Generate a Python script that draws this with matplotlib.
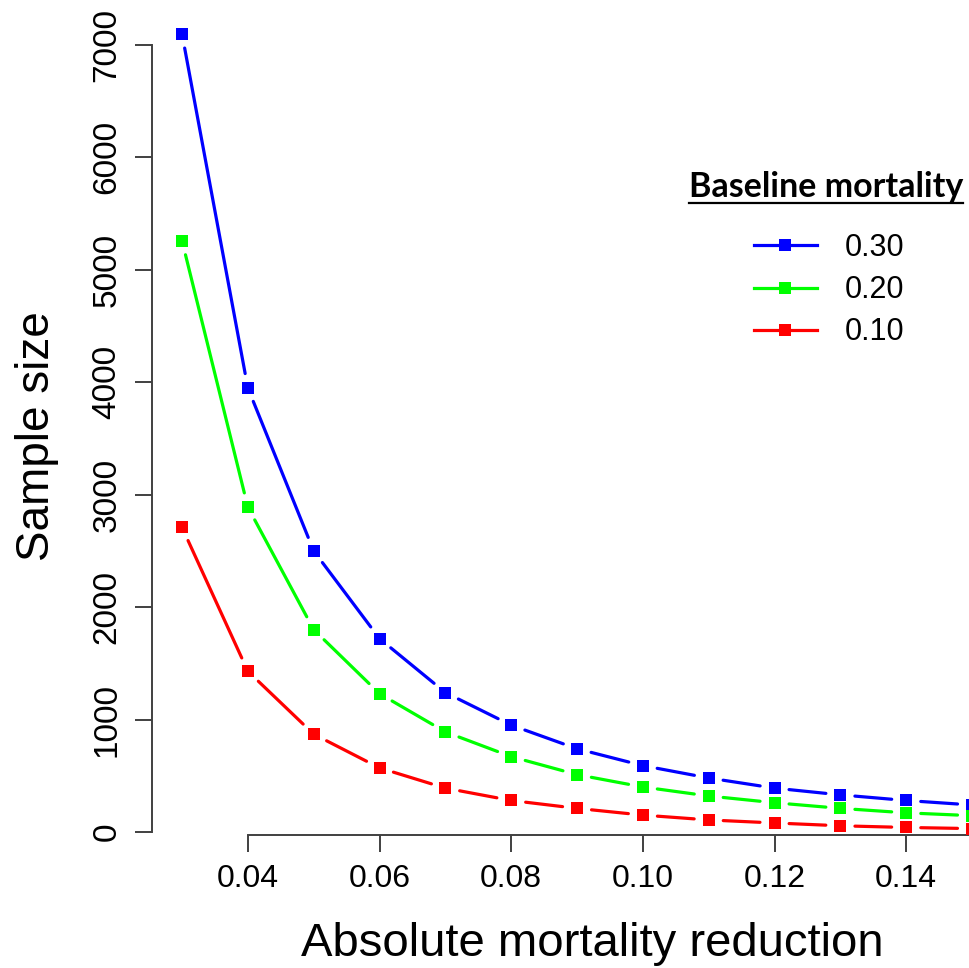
import matplotlib

matplotlib.use("Agg")
import matplotlib.pyplot as plt
from matplotlib.lines import Line2D

# absolute mortality reduction (x) and total sample size for each baseline mortality
reduction = [0.03, 0.04, 0.05, 0.06, 0.07, 0.08, 0.09, 0.10, 0.11, 0.12, 0.13, 0.14, 0.15]
size_030 = [7100, 3950, 2500, 1720, 1240, 950, 740, 590, 480, 390, 330, 280, 240]
size_020 = [5260, 2890, 1800, 1230, 890, 670, 510, 400, 320, 260, 210, 170, 145]
size_010 = [2710, 1430, 870, 570, 390, 280, 210, 150, 107, 80, 55, 40, 30]

series_labels = ["0.30", "0.20", "0.10"]
series_colors = ["#0000FF", "#00FF00", "#FF0000"]
legend_title = "Baseline mortality"

x_ticks = [0.04, 0.06, 0.08, 0.10, 0.12, 0.14, 0.16]
y_ticks = [0, 1000, 2000, 3000, 4000, 5000, 6000, 7000]

W, H = 969, 968
plt.rcParams["font.family"] = ["Liberation Sans", "DejaVu Sans"]

fig = plt.figure(figsize=(W / 100, H / 100), dpi=100)
left, right, bottom = 151.7, 1037.9, 835.0
ax = fig.add_axes([left / W, 1 - bottom / H, (right - left) / W, bottom / H])
ax.set_xlim(0.0254, 0.1546)
ax.set_ylim(-27, 7400)

lw = 2.3
for values, color in zip([size_030, size_020, size_010], series_colors):
    # R type="b": line segments broken around each point
    for i in range(len(reduction) - 1):
        ax.annotate(
            "",
            xy=(reduction[i + 1], values[i + 1]),
            xytext=(reduction[i], values[i]),
            arrowprops=dict(arrowstyle="-", color=color, lw=lw,
                            shrinkA=10.5, shrinkB=10.5, capstyle="round"),
        )
    ax.plot(reduction, values, linestyle="none", marker="s", markersize=8.8,
            color=color, markeredgewidth=0, zorder=3)

for spine in ("top", "right"):
    ax.spines[spine].set_visible(False)
ax.spines["left"].set_bounds(y_ticks[0], y_ticks[-1])
ax.spines["bottom"].set_bounds(x_ticks[0], x_ticks[-1])
for spine in ("left", "bottom"):
    ax.spines[spine].set_color("0.25")
    ax.spines[spine].set_linewidth(1.4)

ax.set_xticks(x_ticks)
ax.set_xticklabels([f"{t:.2f}" for t in x_ticks])
ax.set_yticks(y_ticks)
ax.set_yticklabels([str(t) for t in y_ticks])
ax.tick_params(length=12, width=1.4, color="0.25", pad=9)
ax.tick_params(axis="x", labelsize=23)
ax.tick_params(axis="y", labelsize=24)
for lab in ax.get_yticklabels():
    lab.set_rotation(90)
    lab.set_va("center")

ax.set_xlabel("Absolute mortality reduction", fontsize=34)
ax.set_ylabel("Sample size", fontsize=33)
ax.xaxis.set_label_coords((592 - left) / (right - left), -(944 - bottom) / bottom, transform=ax.transAxes)
ax.yaxis.set_label_coords(-(left - 37) / (right - left), (bottom - 436) / bottom, transform=ax.transAxes)
ax.xaxis.label.set_va("center")
ax.yaxis.label.set_va("center")

# legend title with underline, as in the original
title = fig.text(826 / W, 1 - 197 / H, legend_title, fontsize=24.5, fontweight="bold",
                 family=["Lato", "DejaVu Sans"], ha="center", va="baseline")
fig.canvas.draw()
bb = title.get_window_extent().transformed(fig.transFigure.inverted())
fig.add_artist(Line2D([bb.x0, bb.x1], [1 - 202.5 / H] * 2, color="black", lw=1.6))

handles = [
    Line2D([0], [0], color=c, lw=lw, marker="s", markersize=8.8, markeredgewidth=0)
    for c in series_colors
]
fig.legend(handles, series_labels, loc="upper left", bbox_to_anchor=(754 / W, 1 - 233 / H),
           frameon=False, fontsize=22, handlelength=2.05, handletextpad=0.92,
           labelspacing=0.4, borderpad=0, borderaxespad=0)

fig.savefig("out.png", dpi=100)
